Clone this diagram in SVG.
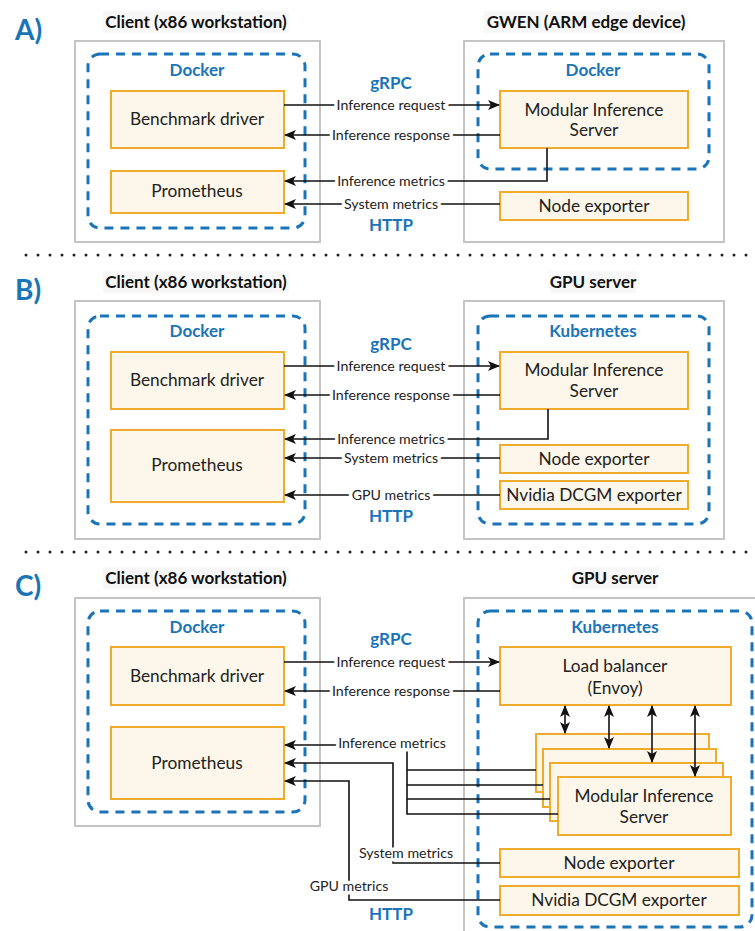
<svg xmlns="http://www.w3.org/2000/svg" width="755" height="931" viewBox="0 0 755 931">
  <style>
    text { font-family: Lato, "Noto Sans", "Liberation Sans", sans-serif; }
    .host { fill: #ffffff; stroke: #c4c4c4; stroke-width: 2; }
    .ctr { fill: none; stroke: #1a74b8; stroke-width: 3; stroke-dasharray: 9 7; }
    .node { fill: #fcf7ea; stroke: #efac2c; stroke-width: 2; }
    .title { font-size: 17px; font-weight: bold; fill: #111; text-anchor: middle; }
    .titlebg { fill: #f7f7f7; }
    .blue { font-size: 17px; font-weight: bold; fill: #1a74b8; text-anchor: middle; }
    .sec { font-size: 28px; font-weight: bold; fill: #1a74b8; }
    .ntext { font-size: 17.3px; fill: #222; text-anchor: middle; }
    .lbl { font-size: 14.2px; fill: #222; text-anchor: middle; stroke: #fff; stroke-width: 7; stroke-linejoin: round; paint-order: stroke; }
    .wire { fill: none; stroke: #111; stroke-width: 1.6; }
    .sep { stroke: #222; stroke-width: 3; stroke-linecap: round; stroke-dasharray: 0 12; }
  </style>
  <defs>
    <marker id="ah" viewBox="0 0 12 10" refX="11" refY="5" markerWidth="12" markerHeight="10" markerUnits="userSpaceOnUse" orient="auto-start-reverse">
      <path d="M0,0 L12,5 L0,10 L3,5 z" fill="#111"/>
    </marker>
  </defs>

  <!-- section separators -->
  <line class="sep" x1="26" y1="255" x2="755" y2="255"/>
  <line class="sep" x1="26" y1="552" x2="755" y2="552"/>

  <!-- ================= A ================= -->
  <g id="sectionA">
    <text class="sec" x="15" y="40">A)</text>
    <rect class="titlebg" x="103" y="11" width="186" height="22"/>
    <text class="title" x="196" y="28">Client (x86 workstation)</text>
    <rect class="titlebg" x="484" y="11" width="204" height="22"/>
    <text class="title" x="586" y="28">GWEN (ARM edge device)</text>

    <rect class="host" x="75" y="41" width="245" height="201"/>
    <rect class="host" x="464" y="41" width="260" height="201"/>
    <rect class="ctr" x="88" y="54" width="217" height="174" rx="12"/>
    <text class="blue" x="197" y="76">Docker</text>
    <rect class="ctr" x="478" y="54" width="231" height="115" rx="12"/>
    <text class="blue" x="593" y="76">Docker</text>
  </g>
  <g id="a-benchmark">
    <rect class="node" x="111" y="91" width="173" height="57"/>
    <text class="ntext" x="197" y="125">Benchmark driver</text>
  </g>
  <g id="a-prometheus">
    <rect class="node" x="111" y="171" width="173" height="42"/>
    <text class="ntext" x="197" y="197">Prometheus</text>
  </g>
  <g id="a-mis">
    <rect class="node" x="500" y="91" width="188" height="57"/>
    <text class="ntext" x="594" y="116">Modular Inference</text>
    <text class="ntext" x="594" y="136">Server</text>
  </g>
  <g id="a-node-exporter">
    <rect class="node" x="500" y="192" width="188" height="28"/>
    <text class="ntext" x="594" y="212">Node exporter</text>
  </g>
  <g id="a-connectors">
    <path class="wire" d="M284,105 H499" marker-end="url(#ah)"/>
    <path class="wire" d="M500,135 H285" marker-end="url(#ah)"/>
    <path class="wire" d="M547,148 V181 H285" marker-end="url(#ah)"/>
    <path class="wire" d="M500,204 H285" marker-end="url(#ah)"/>
    <text class="blue" x="391" y="89">gRPC</text>
    <text class="lbl" x="391" y="110">Inference request</text>
    <text class="lbl" x="391" y="140">Inference response</text>
    <text class="lbl" x="391" y="186">Inference metrics</text>
    <text class="lbl" x="391" y="209">System metrics</text>
    <text class="blue" x="391" y="231">HTTP</text>
  </g>

  <!-- ================= B ================= -->
  <g id="sectionB">
    <text class="sec" x="15" y="300">B)</text>
    <rect class="titlebg" x="103" y="271" width="186" height="22"/>
    <text class="title" x="196" y="288">Client (x86 workstation)</text>
    <rect class="titlebg" x="550" y="271" width="86" height="22"/>
    <text class="title" x="593" y="288">GPU server</text>

    <rect class="host" x="75" y="301" width="245" height="238"/>
    <rect class="host" x="464" y="301" width="260" height="238"/>
    <rect class="ctr" x="88" y="316" width="217" height="208" rx="12"/>
    <text class="blue" x="197" y="337">Docker</text>
    <rect class="ctr" x="478" y="316" width="231" height="208" rx="12"/>
    <text class="blue" x="593" y="337">Kubernetes</text>
  </g>
  <g id="b-benchmark">
    <rect class="node" x="111" y="352" width="173" height="57"/>
    <text class="ntext" x="197" y="386">Benchmark driver</text>
  </g>
  <g id="b-prometheus">
    <rect class="node" x="111" y="430" width="173" height="72"/>
    <text class="ntext" x="197" y="471">Prometheus</text>
  </g>
  <g id="b-mis">
    <rect class="node" x="500" y="352" width="188" height="57"/>
    <text class="ntext" x="594" y="376">Modular Inference</text>
    <text class="ntext" x="594" y="397">Server</text>
  </g>
  <g id="b-node-exporter">
    <rect class="node" x="500" y="445" width="188" height="28"/>
    <text class="ntext" x="594" y="465">Node exporter</text>
  </g>
  <g id="b-dcgm-exporter">
    <rect class="node" x="500" y="481" width="188" height="28"/>
    <text class="ntext" x="594" y="501">Nvidia DCGM exporter</text>
  </g>
  <g id="b-connectors">
    <path class="wire" d="M284,366 H499" marker-end="url(#ah)"/>
    <path class="wire" d="M500,395 H285" marker-end="url(#ah)"/>
    <path class="wire" d="M548,409 V439 H285" marker-end="url(#ah)"/>
    <path class="wire" d="M500,458 H285" marker-end="url(#ah)"/>
    <path class="wire" d="M500,495 H285" marker-end="url(#ah)"/>
    <text class="blue" x="391" y="350">gRPC</text>
    <text class="lbl" x="391" y="371">Inference request</text>
    <text class="lbl" x="391" y="400">Inference response</text>
    <text class="lbl" x="391" y="444">Inference metrics</text>
    <text class="lbl" x="391" y="463">System metrics</text>
    <text class="lbl" x="391" y="500">GPU metrics</text>
    <text class="blue" x="391" y="522">HTTP</text>
  </g>

  <!-- ================= C ================= -->
  <g id="sectionC">
    <text class="sec" x="15" y="596">C)</text>
    <rect class="titlebg" x="103" y="567" width="186" height="22"/>
    <text class="title" x="196" y="584">Client (x86 workstation)</text>
    <rect class="titlebg" x="572" y="567" width="86" height="22"/>
    <text class="title" x="615" y="584">GPU server</text>

    <rect class="host" x="75" y="598" width="245" height="228"/>
    <rect class="host" x="464" y="598" width="300" height="345"/>
    <rect class="ctr" x="88" y="611" width="217" height="201" rx="12"/>
    <text class="blue" x="197" y="633">Docker</text>
    <rect class="ctr" x="478" y="611" width="274" height="316" rx="12"/>
    <text class="blue" x="615" y="633">Kubernetes</text>
  </g>
  <g id="c-benchmark">
    <rect class="node" x="111" y="647" width="173" height="58"/>
    <text class="ntext" x="197" y="682">Benchmark driver</text>
  </g>
  <g id="c-prometheus">
    <rect class="node" x="111" y="727" width="173" height="72"/>
    <text class="ntext" x="197" y="769">Prometheus</text>
  </g>
  <g id="c-load-balancer">
    <rect class="node" x="500" y="647" width="231" height="58"/>
    <text class="ntext" x="615" y="672">Load balancer</text>
    <text class="ntext" x="615" y="694">(Envoy)</text>
  </g>
  <g id="c-mis-replicas">
    <rect class="node" x="536" y="734" width="173" height="58"/>
    <rect class="node" x="543" y="749" width="173" height="58"/>
    <rect class="node" x="550" y="763" width="173" height="58"/>
    <rect class="node" x="558" y="777" width="173" height="58"/>
    <text class="ntext" x="644" y="802">Modular Inference</text>
    <text class="ntext" x="644" y="823">Server</text>
  </g>
  <g id="c-node-exporter">
    <rect class="node" x="500" y="849" width="239" height="28"/>
    <text class="ntext" x="619" y="869">Node exporter</text>
  </g>
  <g id="c-dcgm-exporter">
    <rect class="node" x="500" y="886" width="239" height="29"/>
    <text class="ntext" x="619" y="906">Nvidia DCGM exporter</text>
  </g>
  <g id="c-connectors">
    <path class="wire" d="M284,662 H499" marker-end="url(#ah)"/>
    <path class="wire" d="M500,691 H285" marker-end="url(#ah)"/>
    <!-- load balancer to replicas -->
    <path class="wire" d="M565,706 V733" marker-start="url(#ah)" marker-end="url(#ah)"/>
    <path class="wire" d="M609,706 V748" marker-start="url(#ah)" marker-end="url(#ah)"/>
    <path class="wire" d="M652,706 V762" marker-start="url(#ah)" marker-end="url(#ah)"/>
    <path class="wire" d="M695,706 V776" marker-start="url(#ah)" marker-end="url(#ah)"/>
    <!-- metrics -->
    <path class="wire" d="M536,770 H407"/>
    <path class="wire" d="M543,785 H407"/>
    <path class="wire" d="M550,799 H407"/>
    <path class="wire" d="M558,814 H407 V745 H285" marker-end="url(#ah)"/>
    <path class="wire" d="M500,863 H393 V763 H285" marker-end="url(#ah)"/>
    <path class="wire" d="M500,900 H349 V781 H285" marker-end="url(#ah)"/>
    <text class="blue" x="391" y="645">gRPC</text>
    <text class="lbl" x="391" y="667">Inference request</text>
    <text class="lbl" x="391" y="696">Inference response</text>
    <text class="lbl" x="392" y="748">Inference metrics</text>
    <text class="lbl" x="406" y="858">System metrics</text>
    <text class="lbl" x="349" y="891">GPU metrics</text>
    <text class="blue" x="391" y="920">HTTP</text>
  </g>
</svg>
